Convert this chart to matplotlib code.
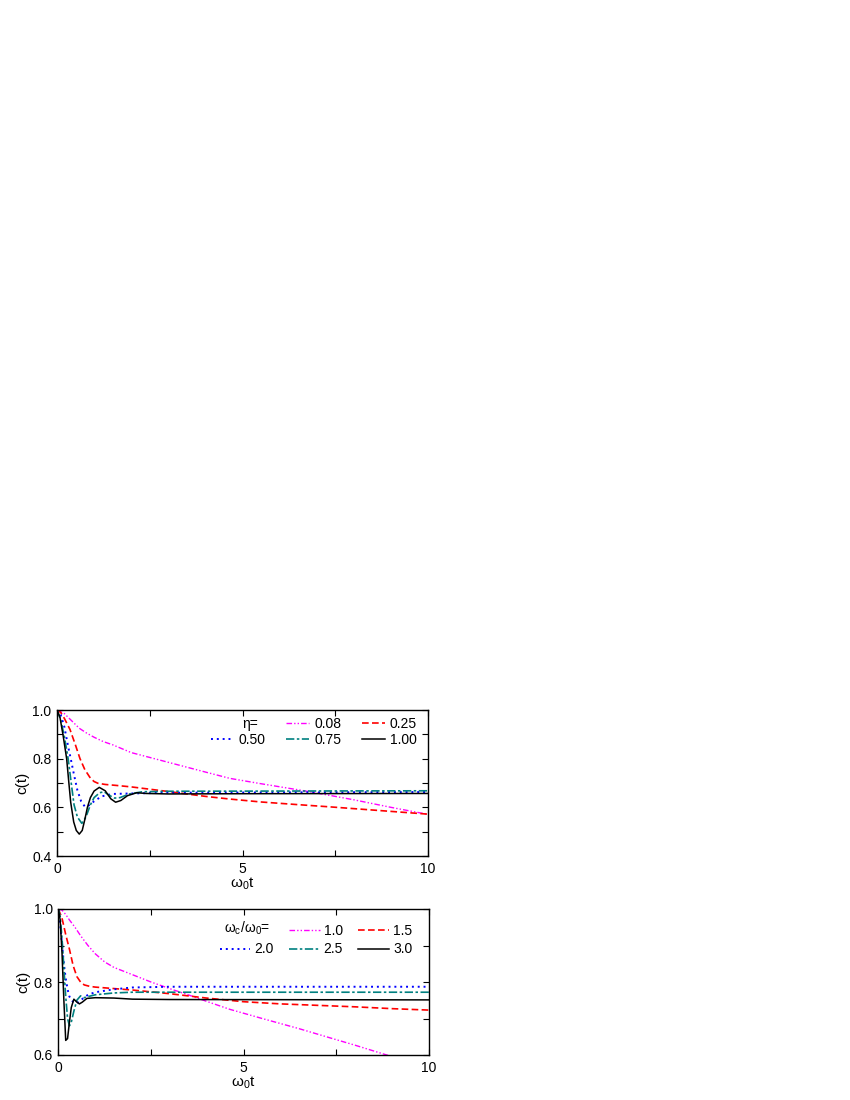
import matplotlib
matplotlib.use("Agg")
import matplotlib.pyplot as plt
from matplotlib.lines import Line2D
from matplotlib.ticker import MultipleLocator

plt.rcParams['font.family'] = ['Liberation Sans', 'DejaVu Sans']
plt.rcParams['mathtext.fontset'] = 'custom'
plt.rcParams['mathtext.rm'] = 'Liberation Sans'
plt.rcParams['mathtext.it'] = 'Liberation Sans:italic'

# ---- upper panel: different eta ----
eta_labels = ["0.08", "0.25", "0.50", "0.75", "1.00"]

t_eta008 = [0, 0.2, 0.4, 0.6, 0.8, 1.0, 1.25, 1.5, 2, 2.5, 3, 3.5, 4, 4.66, 5.5, 6.82, 8, 9, 10]
c_eta008 = [1.0, 0.985, 0.955, 0.925, 0.905, 0.888, 0.87, 0.857, 0.825, 0.805, 0.785, 0.765,
            0.745, 0.719, 0.697, 0.664, 0.631, 0.60, 0.571]

t_eta025 = [0, 0.1, 0.2, 0.35, 0.5, 0.62, 0.75, 0.9, 1.0, 1.1, 1.3, 1.6, 2, 3, 4, 4.66, 5.5,
            6.5, 7.35, 8.5, 10]
c_eta025 = [1.0, 0.99, 0.965, 0.92, 0.855, 0.80, 0.755, 0.72, 0.706, 0.699, 0.694, 0.69,
            0.684, 0.665, 0.645, 0.634, 0.622, 0.611, 0.602, 0.589, 0.572]

t_eta050 = [0, 0.1, 0.2, 0.3, 0.37, 0.45, 0.55, 0.65, 0.755, 0.85, 1.0, 1.2, 1.5, 2, 3, 10]
c_eta050 = [1.0, 0.98, 0.93, 0.85, 0.80, 0.74, 0.67, 0.625, 0.602, 0.607, 0.625, 0.645,
            0.655, 0.657, 0.66, 0.663]

t_eta075 = [0, 0.1, 0.2, 0.3, 0.4, 0.46, 0.55, 0.67, 0.78, 0.9, 1.0, 1.15, 1.27, 1.4, 1.55,
            1.7, 1.95, 2.3, 3, 10]
c_eta075 = [1.0, 0.96, 0.89, 0.80, 0.68, 0.61, 0.56, 0.534, 0.56, 0.61, 0.64, 0.66, 0.664,
            0.65, 0.638, 0.64, 0.655, 0.664, 0.666, 0.668]

t_eta100 = [0, 0.08, 0.17, 0.26, 0.32, 0.37, 0.45, 0.52, 0.6, 0.68, 0.75, 0.82, 0.9, 1.0,
            1.14, 1.3, 1.45, 1.58, 1.72, 1.9, 2.15, 2.4, 3, 5, 10]
c_eta100 = [1.0, 0.97, 0.89, 0.80, 0.70, 0.62, 0.54, 0.505, 0.49, 0.505, 0.55, 0.60, 0.64,
            0.667, 0.682, 0.668, 0.635, 0.621, 0.628, 0.648, 0.66, 0.657, 0.655, 0.656, 0.657]

# ---- lower panel: different omega_c/omega_0 ----
wc_labels = ["1.0", "1.5", "2.0", "2.5", "3.0"]

t_wc10 = [0, 0.1, 0.2, 0.3, 0.45, 0.6, 0.8, 1.0, 1.25, 1.5, 2.0, 2.5, 3, 3.5, 4, 4.63, 5.5,
          6.5, 7.33, 8, 8.86, 10]
c_wc10 = [1.0, 0.997, 0.985, 0.97, 0.95, 0.927, 0.90, 0.877, 0.855, 0.84, 0.82, 0.80, 0.782,
          0.765, 0.747, 0.725, 0.70, 0.672, 0.647, 0.627, 0.60, 0.566]

t_wc15 = [0, 0.1, 0.2, 0.3, 0.4, 0.5, 0.6, 0.7, 0.85, 1.0, 1.5, 2, 3, 4, 5, 6, 7, 8, 9, 10]
c_wc15 = [1.0, 0.975, 0.93, 0.89, 0.845, 0.815, 0.80, 0.792, 0.788, 0.786, 0.782, 0.778,
          0.768, 0.756, 0.746, 0.740, 0.736, 0.732, 0.727, 0.723]

t_wc20 = [0, 0.05, 0.1, 0.15, 0.2, 0.25, 0.3, 0.4, 0.5, 0.6, 0.8, 1.0, 1.5, 2, 3, 10]
c_wc20 = [1.0, 0.96, 0.905, 0.85, 0.81, 0.78, 0.76, 0.745, 0.742, 0.75, 0.765, 0.772, 0.78,
          0.785, 0.787, 0.787]

t_wc25 = [0, 0.05, 0.1, 0.15, 0.2, 0.25, 0.3, 0.35, 0.42, 0.5, 0.6, 0.7, 0.8, 1.0, 1.5, 2, 10]
c_wc25 = [1.0, 0.98, 0.92, 0.84, 0.76, 0.70, 0.68, 0.69, 0.72, 0.75, 0.762, 0.757, 0.76,
          0.765, 0.77, 0.772, 0.772]

t_wc30 = [0, 0.05, 0.1, 0.15, 0.2, 0.25, 0.3, 0.35, 0.42, 0.5, 0.57, 0.65, 0.77, 1.0, 1.5,
          2, 3, 10]
c_wc30 = [1.0, 0.97, 0.88, 0.75, 0.64, 0.645, 0.69, 0.73, 0.753, 0.745, 0.74, 0.745, 0.755,
          0.757, 0.756, 0.753, 0.752, 0.751]

colors = ['#ff00ff', '#ff0000', '#0000ff', '#008080', '#000000']
styles = [(0, (4, 1.5, 1, 1.5, 1, 1.5)), (0, (4, 2)), (0, (1, 2)),
          (0, (5, 1.5, 1.5, 1.5)), '-']
widths = [1.0, 1.2, 1.4, 1.2, 1.1]


def style_axes(ax, ymin, ymax):
    ax.set_xlim(0, 10)
    ax.set_ylim(ymin, ymax)
    ax.xaxis.set_major_locator(MultipleLocator(5))
    ax.xaxis.set_minor_locator(MultipleLocator(2.5))
    ax.yaxis.set_major_locator(MultipleLocator(0.2))
    ax.yaxis.set_minor_locator(MultipleLocator(0.1))
    ax.tick_params(which='both', direction='in', top=True, right=True,
                   labelsize=10, width=0.8, pad=4)
    ax.tick_params(which='major', length=4)
    ax.tick_params(which='minor', length=4)
    for s in ax.spines.values():
        s.set_linewidth(1.0)
    ax.set_xlabel(r'ω$_\mathrm{0}$t', fontsize=11, labelpad=0)
    ax.set_ylabel('c(t)', fontsize=11, labelpad=2)


fig = plt.figure(figsize=(8.5, 11), dpi=100)

# upper panel
ax1 = fig.add_axes([57 / 850, 244 / 1100, 371 / 850, 146 / 1100])
data1 = [(t_eta008, c_eta008), (t_eta025, c_eta025), (t_eta050, c_eta050),
         (t_eta075, c_eta075), (t_eta100, c_eta100)]
lines1 = []
for (t, c), col, ls, lw, lab in zip(data1, colors, styles, widths, eta_labels):
    ln, = ax1.plot(t, c, color=col, linestyle=ls, linewidth=lw, label=lab)
    lines1.append(ln)
style_axes(ax1, 0.4, 1.0)
blank = Line2D([], [], color='none')
h = [blank, lines1[2], lines1[0], lines1[3], lines1[1], lines1[4]]
l = [' ', '0.50', '0.08', '0.75', '0.25', '1.00']
ax1.legend(h, l, ncol=3, frameon=False, loc='upper right', bbox_to_anchor=(0.97, 0.95),
           fontsize=10, handlelength=1.65, handletextpad=0.35, columnspacing=1.5,
           labelspacing=0.1, borderaxespad=0, borderpad=0)
ax1.text(0.542, 0.904, 'η=', transform=ax1.transAxes, ha='right', va='center', fontsize=10)

# lower panel
ax2 = fig.add_axes([58.3 / 850, 45 / 1100, 370.7 / 850, 146 / 1100])
data2 = [(t_wc10, c_wc10), (t_wc15, c_wc15), (t_wc20, c_wc20),
         (t_wc25, c_wc25), (t_wc30, c_wc30)]
lines2 = []
for (t, c), col, ls, lw, lab in zip(data2, colors, styles, widths, wc_labels):
    ln, = ax2.plot(t, c, color=col, linestyle=ls, linewidth=lw, label=lab)
    lines2.append(ln)
style_axes(ax2, 0.6, 1.0)
h = [blank, lines2[2], lines2[0], lines2[3], lines2[1], lines2[4]]
l = [' ', '2.0', '1.0', '2.5', '1.5', '3.0']
ax2.legend(h, l, ncol=3, frameon=False, loc='upper right', bbox_to_anchor=(0.955, 0.895),
           fontsize=10, handlelength=2.2, handletextpad=0.3, columnspacing=1.1,
           labelspacing=0.3, borderaxespad=0, borderpad=0)
ax2.text(0.571, 0.866, r'ω$_\mathrm{c}$/ω$_\mathrm{0}$=', transform=ax2.transAxes,
         ha='right', va='center', fontsize=10)

fig.savefig('out.png', dpi=100)
